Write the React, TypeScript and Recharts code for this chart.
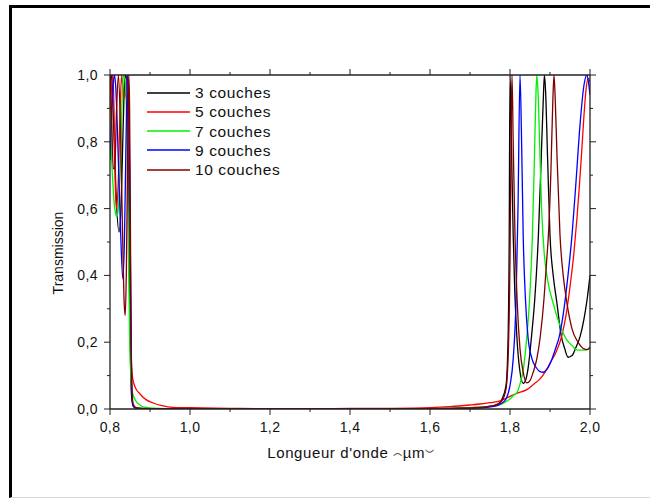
import React from 'react';
import { LineChart, Line, XAxis, YAxis, Legend } from 'recharts';

// wavelength (µm), transmission
const couches3 = [
  [0.8, 0.97], [0.803, 1.0], [0.806, 0.96], [0.81, 0.82], [0.815, 0.65], [0.8225, 0.53],
  [0.828, 0.62], [0.833, 0.85], [0.837, 0.99], [0.84, 1.0], [0.843, 0.95], [0.846, 0.7],
  [0.849, 0.35], [0.852, 0.1], [0.855, 0.025], [0.86, 0.006], [0.87, 0.002], [0.9, 0.0005],
  [1.0, 0], [1.2, 0], [1.4, 0], [1.6, 0.001], [1.7, 0.004], [1.75, 0.008], [1.77, 0.015],
  [1.78, 0.03], [1.79, 0.07], [1.795, 0.2], [1.798, 0.5], [1.8, 1.0], [1.802, 0.9],
  [1.805, 0.7], [1.808, 0.52], [1.812, 0.35], [1.817, 0.22], [1.824, 0.12], [1.833, 0.077],
  [1.84, 0.09], [1.845, 0.12], [1.854, 0.22], [1.862, 0.33], [1.871, 0.52], [1.878, 0.75],
  [1.883, 0.92], [1.886, 1.0], [1.889, 0.95], [1.894, 0.75], [1.9, 0.52], [1.908, 0.4],
  [1.917, 0.32], [1.928, 0.22], [1.937, 0.18], [1.945, 0.155], [1.955, 0.16], [1.965, 0.185],
  [1.975, 0.216], [1.985, 0.27], [1.993, 0.33], [2.0, 0.4],
];

const couches5 = [
  [0.8, 0.85], [0.804, 0.97], [0.807, 1.0], [0.81, 0.9], [0.813, 0.68], [0.816, 0.6],
  [0.82, 0.66], [0.825, 0.88], [0.829, 1.0], [0.835, 0.93], [0.84, 0.95], [0.844, 1.0],
  [0.847, 0.8], [0.85, 0.45], [0.852, 0.25], [0.854, 0.13], [0.857, 0.09], [0.86, 0.075],
  [0.865, 0.06], [0.875, 0.045], [0.89, 0.028], [0.908, 0.018], [0.93, 0.01], [0.957, 0.005],
  [1.0, 0.004], [1.1, 0.002], [1.2, 0.001], [1.3, 0.001], [1.4, 0.0015], [1.5, 0.002],
  [1.6, 0.004], [1.65, 0.007], [1.7, 0.012], [1.725, 0.015], [1.75, 0.019], [1.775, 0.024],
  [1.79, 0.032], [1.8, 0.038], [1.82, 0.048], [1.842, 0.058], [1.86, 0.075], [1.875, 0.09],
  [1.89, 0.115], [1.9, 0.137], [1.915, 0.17], [1.929, 0.217], [1.94, 0.28], [1.95, 0.366],
  [1.96, 0.47], [1.967, 0.566], [1.973, 0.66], [1.979, 0.766], [1.985, 0.88], [1.99, 0.955],
  [1.995, 0.99], [2.0, 0.98],
];

const couches7 = [
  [0.8, 0.9], [0.803, 0.78], [0.807, 0.68], [0.812, 0.6], [0.817, 0.575], [0.822, 0.62],
  [0.827, 0.78], [0.831, 0.95], [0.834, 1.0], [0.838, 0.98], [0.842, 0.85], [0.846, 0.5],
  [0.849, 0.22], [0.852, 0.1], [0.856, 0.05], [0.862, 0.03], [0.867, 0.02], [0.875, 0.012],
  [0.883, 0.006], [0.9, 0.003], [0.95, 0.001], [1.0, 0], [1.2, 0], [1.4, 0], [1.6, 0.001],
  [1.7, 0.004], [1.76, 0.009], [1.78, 0.015], [1.79, 0.022], [1.8, 0.03], [1.81, 0.042],
  [1.817, 0.048], [1.825, 0.075], [1.833, 0.117], [1.842, 0.216], [1.85, 0.35], [1.856, 0.52],
  [1.861, 0.75], [1.865, 0.95], [1.867, 1.0], [1.87, 0.95], [1.874, 0.8], [1.879, 0.6],
  [1.886, 0.46], [1.895, 0.38], [1.908, 0.316], [1.925, 0.25], [1.942, 0.207], [1.955, 0.19],
  [1.967, 0.177], [1.985, 0.176], [2.0, 0.182],
];

const couches9 = [
  [0.8, 0.745], [0.804, 0.88], [0.808, 0.97], [0.8115, 1.0], [0.815, 0.95], [0.82, 0.78],
  [0.826, 0.55], [0.832, 0.39], [0.836, 0.5], [0.84, 0.8], [0.844, 1.0], [0.847, 0.95],
  [0.85, 0.6], [0.852, 0.3], [0.854, 0.08], [0.857, 0.01], [0.865, 0.002], [0.9, 0.0005],
  [1.0, 0], [1.2, 0], [1.4, 0], [1.6, 0.001], [1.7, 0.002], [1.76, 0.008], [1.78, 0.018],
  [1.79, 0.03], [1.8, 0.07], [1.808, 0.15], [1.815, 0.32], [1.82, 0.6], [1.825, 1.0],
  [1.829, 0.8], [1.833, 0.52], [1.839, 0.32], [1.845, 0.216], [1.855, 0.15], [1.865, 0.125],
  [1.875, 0.112], [1.883, 0.11], [1.893, 0.12], [1.905, 0.15], [1.915, 0.185], [1.923, 0.216],
  [1.935, 0.3], [1.945, 0.4], [1.955, 0.52], [1.965, 0.68], [1.975, 0.85], [1.985, 0.97],
  [1.992, 1.0], [1.996, 0.98], [2.0, 0.94],
];

const couches10 = [
  [0.8, 1.0], [0.804, 0.88], [0.808, 0.72], [0.812, 0.72], [0.816, 0.88], [0.821, 1.0],
  [0.826, 0.85], [0.831, 0.55], [0.835, 0.33], [0.838, 0.28], [0.841, 0.42], [0.844, 0.75],
  [0.847, 1.0], [0.849, 0.9], [0.851, 0.55], [0.853, 0.2], [0.855, 0.06], [0.858, 0.015],
  [0.865, 0.004], [0.9, 0.001], [1.0, 0], [1.2, 0], [1.4, 0], [1.6, 0.001], [1.7, 0.003],
  [1.76, 0.01], [1.78, 0.025], [1.79, 0.06], [1.796, 0.18], [1.8, 0.45], [1.803, 0.85],
  [1.805, 1.0], [1.808, 0.8], [1.8125, 0.52], [1.818, 0.32], [1.825, 0.18], [1.833, 0.11],
  [1.842, 0.078], [1.85, 0.085], [1.858, 0.11], [1.867, 0.15], [1.876, 0.22], [1.885, 0.33],
  [1.892, 0.45], [1.896, 0.52], [1.902, 0.7], [1.907, 0.92], [1.91, 1.0], [1.913, 0.93],
  [1.918, 0.74], [1.925, 0.52], [1.933, 0.4], [1.942, 0.32], [1.955, 0.24], [1.97, 0.2],
  [1.985, 0.18], [1.993, 0.178], [2.0, 0.185],
];

const xTicks = [0.8, 0.9, 1.0, 1.1, 1.2, 1.3, 1.4, 1.5, 1.6, 1.7, 1.8, 1.9, 2.0];
const yTicks = [0, 0.1, 0.2, 0.3, 0.4, 0.5, 0.6, 0.7, 0.8, 0.9, 1.0];

const series = [
  { name: '3 couches', color: '#000000', points: couches3 },
  { name: '5 couches', color: '#ff0000', points: couches5 },
  { name: '7 couches', color: '#00f000', points: couches7 },
  { name: '9 couches', color: '#0000ff', points: couches9 },
  { name: '10 couches', color: '#800000', points: couches10 },
];

const FONT = "'Liberation Sans', Arial, sans-serif";
const AXIS = '#222';

const fmt = (v: number) => v.toFixed(1).replace('.', ',');
const isMajor = (v: number) => Math.round(v * 10) % 2 === 0;
const tickLen = (v: number) => (isMajor(v) ? 6 : 3);

const BottomTick = ({ x, y, payload }: any) => (
  <g>
    <line x1={x} x2={x} y1={y} y2={y + tickLen(payload.value)} stroke={AXIS} />
    {isMajor(payload.value) && (
      <text x={x} y={y + 23} textAnchor="middle" fontSize={14} letterSpacing={0.4} fontFamily={FONT} fill="#111">
        {fmt(payload.value)}
      </text>
    )}
  </g>
);

const TopTick = ({ x, y, payload }: any) => (
  <line x1={x} x2={x} y1={y} y2={y - tickLen(payload.value)} stroke={AXIS} />
);

const LeftTick = ({ x, y, payload }: any) => (
  <g>
    <line x1={x - tickLen(payload.value)} x2={x} y1={y} y2={y} stroke={AXIS} />
    {isMajor(payload.value) && (
      <text x={x - 12} y={y + 5} textAnchor="end" fontSize={14} letterSpacing={0.4} fontFamily={FONT} fill="#111">
        {fmt(payload.value)}
      </text>
    )}
  </g>
);

const RightTick = ({ x, y, payload }: any) => (
  <line x1={x} x2={x + tickLen(payload.value)} y1={y} y2={y} stroke={AXIS} />
);

const XTitle = (props: any) => {
  const vb = props.viewBox || { x: 110, y: 409, width: 480, height: 40 };
  return (
    <text x={vb.x + vb.width / 2 + 1} y={vb.y + 49} textAnchor="middle" fontSize={15} letterSpacing={0.6} fontFamily={FONT} fill="#111">
      <tspan>Longueur d'onde </tspan>
      <tspan dy={7}>⁀</tspan>
      <tspan dy={-7}>µm</tspan>
      <tspan dy={-9}>‿</tspan>
    </text>
  );
};

const YTitle = (props: any) => {
  const vb = props.viewBox || { x: 50, y: 75, width: 60, height: 334 };
  const cx = vb.x + 8;
  const cy = vb.y + vb.height / 2 + 11;
  return (
    <text x={cx} y={cy} transform={`rotate(-90, ${cx}, ${cy})`} textAnchor="middle" dominantBaseline="central" fontSize={14} fontFamily={FONT} fill="#111">
      Transmission
    </text>
  );
};

const renderLegend = () => (
  <div style={{ fontFamily: FONT, fontSize: 15.5, letterSpacing: 0.6, color: '#111' }}>
    {series.map((s) => (
      <div key={s.name} style={{ display: 'flex', alignItems: 'center', height: 19.25 }}>
        <svg width={48} height={6} style={{ display: 'block' }}>
          <line x1={0} x2={43} y1={3} y2={3} stroke={s.color} strokeWidth={1.5} />
        </svg>
        <span style={{ lineHeight: '19px', whiteSpace: 'nowrap' }}>{s.name}</span>
      </div>
    ))}
  </div>
);

export default function App() {
  return (
    <div style={{ position: 'absolute', left: 0, top: 0, width: 650, height: 500, background: '#fff', overflow: 'hidden' }}>
      <div
        style={{
          position: 'absolute', left: 9, top: 5, width: 670, height: 493, boxSizing: 'border-box',
          borderTop: '3px solid #000', borderLeft: '3px solid #000', borderBottom: '1px solid #d8d8d8',
        }}
      />
      <div style={{ position: 'absolute', left: 0, top: 0 }}>
        <LineChart width={650} height={500} margin={{ top: 74, right: 59, bottom: 51, left: 50 }}>
          <XAxis
            dataKey="x" type="number" domain={[0.8, 2.0]} ticks={xTicks} interval={0}
            allowDataOverflow tickSize={0} tickMargin={0} tickLine={false}
            tick={<BottomTick />} height={40}
            axisLine={{ stroke: AXIS, strokeWidth: 1.3 }}
            label={<XTitle />}
          />
          <XAxis
            xAxisId="top" orientation="top" dataKey="x" type="number" domain={[0.8, 2.0]}
            ticks={xTicks} interval={0} allowDataOverflow tickSize={0} tickMargin={0}
            tickLine={false} tick={<TopTick />} height={1}
            axisLine={{ stroke: AXIS, strokeWidth: 1.3 }}
          />
          <YAxis
            type="number" domain={[0, 1]} ticks={yTicks} interval={0} allowDataOverflow
            tickSize={0} tickMargin={0} tickLine={false} tick={<LeftTick />} width={60}
            axisLine={{ stroke: AXIS, strokeWidth: 1.3 }}
            label={<YTitle />}
          />
          <YAxis
            yAxisId="right" orientation="right" type="number" domain={[0, 1]} ticks={yTicks}
            interval={0} allowDataOverflow tickSize={0} tickMargin={0} tickLine={false}
            tick={<RightTick />} width={1}
            axisLine={{ stroke: AXIS, strokeWidth: 1.3 }}
          />
          <Legend
            layout="vertical" align="center" verticalAlign="middle"
            content={renderLegend}
            wrapperStyle={{ left: 147, top: 83, width: 170 }}
          />
          {series.map((s) => (
            <Line
              key={s.name}
              name={s.name}
              data={s.points.map(([x, y]) => ({ x, y }))}
              dataKey="y"
              type="monotone"
              stroke={s.color}
              strokeWidth={1.3}
              dot={false}
              activeDot={false}
              isAnimationActive={false}
            />
          ))}
        </LineChart>
      </div>
    </div>
  );
}
